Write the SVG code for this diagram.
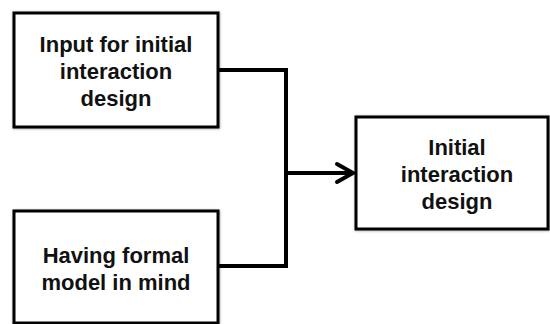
<svg xmlns="http://www.w3.org/2000/svg" width="550" height="324" viewBox="0 0 550 324">
<defs>
<style>
.box{fill:#fff;stroke:#000;stroke-width:3;filter:url(#sh)}
.lbl{font-family:"Liberation Sans",Arial,sans-serif;font-weight:bold;font-size:22px;fill:#111;text-anchor:middle}
.wire{fill:none;stroke:#000;stroke-width:4;stroke-linejoin:miter}
</style>
<filter id="sh" x="-10%" y="-10%" width="120%" height="120%">
<feDropShadow dx="0.5" dy="0.5" stdDeviation="1.2" flood-color="#000" flood-opacity="0.35"/>
</filter>
</defs>
<rect width="550" height="324" fill="#fff"/>
<g id="connectors">
<path class="wire" d="M218 70 H286 V266 H218"/>
<path class="wire" d="M286 173 H352"/>
<path class="wire" d="M337 164 L353 173 L337 182" stroke-linecap="round"/>
</g>
<g id="node-input">
<rect class="box" x="14" y="13" width="204" height="114"/>
<text class="lbl" x="116" y="52">Input for initial</text>
<text class="lbl" x="116" y="79">interaction</text>
<text class="lbl" x="116" y="106">design</text>
</g>
<g id="node-formal">
<rect class="box" x="14" y="211" width="204" height="112"/>
<text class="lbl" x="116" y="263">Having formal</text>
<text class="lbl" x="116" y="290">model in mind</text>
</g>
<g id="node-initial">
<rect class="box" x="356" y="117" width="192" height="112"/>
<text class="lbl" x="457" y="155">Initial</text>
<text class="lbl" x="457" y="182">interaction</text>
<text class="lbl" x="457" y="209">design</text>
</g>
</svg>
